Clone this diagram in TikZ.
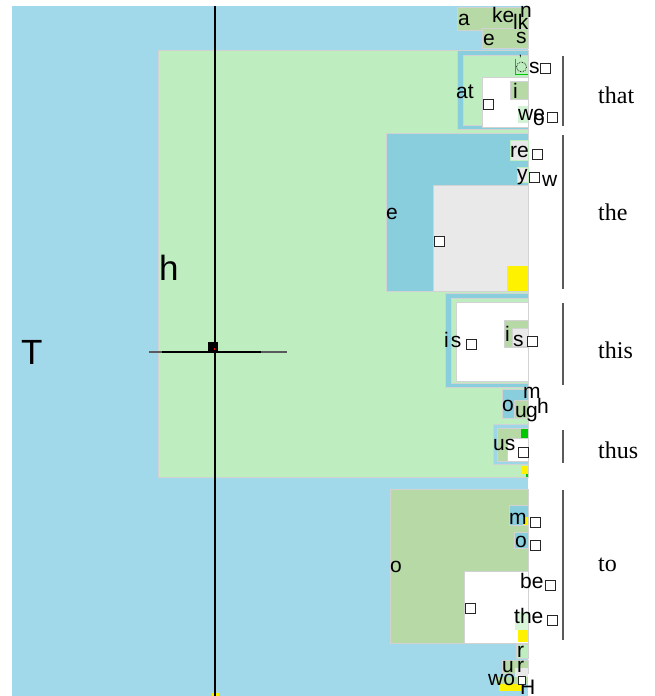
\documentclass[tikz,border=0pt]{standalone}
\usepackage{fontspec}
\setmainfont{Liberation Serif}
\newfontfamily\boxfont{Liberation Sans}

\definecolor{skyblue}{HTML}{A2D9EA}
\definecolor{paleleaf}{HTML}{BEEDC0}
\definecolor{deepsky}{HTML}{88CEDC}
\definecolor{sage}{HTML}{B6D9A5}
\definecolor{mist}{HTML}{E9E9E9}
\definecolor{edge}{HTML}{D2D2D2}
\definecolor{brightleaf}{HTML}{00C800}
\definecolor{rule}{HTML}{5A5A5A}

\tikzset{
  cell/.style={draw=edge, line width=0.8pt},
  glyph/.style={font=\boxfont\fontsize{21}{25}\selectfont, inner sep=0pt, anchor=base west},
  bigglyph/.style={font=\boxfont\fontsize{35}{40}\selectfont, inner sep=0pt, anchor=base west},
  word/.style={font=\fontsize{24}{28}\selectfont, inner sep=0pt, anchor=base west},
  spc/.style={draw=black!85, fill=white, line width=0.7pt, minimum width=9.5pt,
              minimum height=9.5pt, inner sep=0pt, anchor=north west},
  bracket/.style={draw=rule, line width=1.4pt}
}

\begin{document}
\begin{tikzpicture}[x=1pt,y=-1pt]
\useasboundingbox (0,0) rectangle (655,696);

% outermost box
\fill[skyblue] (12,6) rectangle (528,696);
\node[bigglyph] (T) at (21,364) {T};

% box for "h"
\filldraw[cell, fill=paleleaf] (158,50) rectangle (528,477);
\node[bigglyph] (h) at (159,280) {h};

% --- top strip: a / e
\filldraw[cell, fill=sage] (457,7) rectangle (528,30);
\filldraw[cell, fill=sage] (482,28) rectangle (528,48);
\node[glyph] (ga) at (458,25) {a};
\node[glyph] (gke) at (492,23) {ke};
\node[glyph] (gn) at (520,17) {n};
\node[glyph] (glk) at (513,29) {lk};
\node[glyph] (ge1) at (483,45) {e};
\node[glyph] (gs1) at (516,43) {s};

% --- "that" branch
\filldraw[draw=edge, fill=deepsky] (457,50) rectangle (528,129);
\filldraw[draw=edge, fill=paleleaf] (463,55) rectangle (528,125);
\filldraw[draw=edge, fill=white] (482,77) rectangle (528,127);
\filldraw[cell, fill=sage] (510,81) rectangle (528,99);
\fill[paleleaf!70!white] (518,106) rectangle (528,123);
\draw[brightleaf, line width=0.8pt] (515,59) -- (515,74) -- (528,74);
\draw[densely dotted, line width=0.7pt] (521.5,67) circle (5);
\node[glyph, font=\boxfont\fontsize{12}{12}\selectfont] (gap) at (519,63) {’};
\node[glyph] (gat) at (456,98) {at};
\node[spc] (s1) at (483,99) {};
\node[glyph] (gi1) at (513,98) {i};
\node[glyph] (gs2) at (529,73) {s};
\node[spc] (s2) at (540,63) {};
\node[glyph] (gwe) at (518,120) {we};
\node[glyph] (go1) at (533,125) {o};
\node[spc] (s3) at (547,112) {};

% --- "the" branch
\filldraw[cell, fill=deepsky] (386,133) rectangle (528,291);
\filldraw[draw=edge, fill=mist] (433,185) rectangle (528,291);
\fill[yellow] (507,266) rectangle (528,291);
\filldraw[draw=paleleaf, fill=mist, line width=1pt] (510,140) rectangle (528,160);
\filldraw[draw=paleleaf, fill=mist, line width=1pt] (517,167) rectangle (528,182);
\node[glyph] (ge2) at (386,219) {e};
\node[spc] (s4) at (434,236) {};
\node[glyph] (gre) at (510,157) {re};
\node[spc] (s5) at (532,149) {};
\node[glyph] (gy) at (517,180) {y};
\node[spc] (s6) at (529,172) {};
\node[glyph] (gw) at (542,186) {w};

% --- "this" branch
\filldraw[cell, fill=deepsky] (445,293) rectangle (528,387);
\filldraw[draw=edge, fill=paleleaf] (451,298) rectangle (528,383);
\filldraw[draw=edge, fill=white] (456,302) rectangle (528,381);
\filldraw[cell, fill=sage] (504,320) rectangle (528,347);
\filldraw[draw=edge, fill=mist] (512,328) rectangle (528,346);
\node[glyph] (gis1) at (444,347) {i\hspace{2pt}s};
\node[spc] (s7) at (466,339) {};
\node[glyph] (gi2) at (505,341) {i};
\node[glyph] (gs3) at (513,346) {s};
\node[spc] (s8) at (527,336) {};

% --- "ough"
\filldraw[cell, fill=deepsky] (502,389) rectangle (528,418);
\filldraw[draw=edge, fill=sage] (514,400) rectangle (528,418);
\node[glyph] (go2) at (502,411) {o};
\node[glyph] (gu1) at (515,417) {u};
\node[glyph] (gg) at (526,417) {g};
\node[glyph] (gh) at (537,413) {h};
\node[glyph] (gm1) at (523,398) {m};

% --- "thus"
\filldraw[cell, fill=skyblue!80!deepsky] (493,424) rectangle (528,464);
\filldraw[draw=edge, fill=sage] (497,428) rectangle (528,461);
\filldraw[draw=edge, fill=white] (507,438) rectangle (528,461);
\fill[brightleaf] (521,429) rectangle (528,438);
\fill[yellow] (522,466) rectangle (528,474);
\fill[brightleaf] (526,474) rectangle (528,477);
\node[glyph] (gus) at (493,450) {us};
\node[spc] (s9) at (518,447) {};

% --- "to" branch
\filldraw[cell, fill=sage] (390,489) rectangle (528,643);
\filldraw[draw=edge, fill=white] (464,571) rectangle (528,643);
\filldraw[draw=edge, fill=deepsky] (509,505) rectangle (528,525);
\fill[yellow] (523,517) rectangle (528,525);
\filldraw[draw=edge, fill=deepsky] (514,532) rectangle (528,548);
\fill[paleleaf!60!white] (515,612) rectangle (528,630);
\fill[yellow] (518,630) rectangle (528,642);
\node[glyph] (go3) at (390,572) {o};
\node[spc] (s10) at (465,603) {};
\node[glyph] (gm2) at (509,524) {m};
\node[spc] (s11) at (530,517) {};
\node[glyph] (go4) at (515,547) {o};
\node[spc] (s12) at (530,540) {};
\node[glyph] (gbe) at (520,588) {be};
\node[spc] (s13) at (545,580) {};
\node[glyph] (gthe) at (514,623) {the};
\node[spc] (s14) at (547,615) {};

% --- bottom strip
\filldraw[draw=edge, fill=paleleaf] (516,644) rectangle (528,658);
\filldraw[draw=edge, fill=sage] (502,660) rectangle (528,673);
\fill[mist] (515,668) rectangle (528,677);
\fill[sage] (496,677) rectangle (528,684);
\fill[yellow] (499,684) rectangle (523,691);
\node[glyph] (gr1) at (517,657) {r};
\node[glyph] (gu2) at (502,672) {u};
\node[glyph] (gr2) at (517,672) {r};
\node[glyph] (gwo) at (488,685) {wo};
\node[glyph] (gH) at (520,694) {H};
\node[spc, minimum width=7pt, minimum height=8pt] (s15) at (518,676) {};

% --- crosshair
\coordinate (vtop) at (215,6);
\coordinate (vbot) at (215,696);
\coordinate (hl) at (149,352);
\coordinate (hr) at (287,352);
\coordinate (hl2) at (162,352);
\coordinate (hr2) at (261,352);
\fill[yellow] (212,693) rectangle (219,696);
\draw[black, line width=1.2pt] (vtop) -- (vbot);
\draw[rule, line width=1.2pt] (hl) -- (hr);
\draw[black, line width=1.2pt] (hl2) -- (hr2);
\fill[black] (208,342) rectangle (218,352);
\fill[red] (213.5,348) rectangle (215,350);

% --- word brackets
\draw[bracket] (563,56) -- (563,126);
\draw[bracket] (563,135) -- (563,289);
\draw[bracket] (563,303) -- (563,385);
\draw[bracket] (563,430) -- (563,463);
\draw[bracket] (563,490) -- (563,640);
\node[word] (wthat) at (598,103) {that};
\node[word] (wthe) at (598,220) {the};
\node[word] (wthis) at (598,358) {this};
\node[word] (wthus) at (598,458) {thus};
\node[word] (wto) at (598,571) {to};
\end{tikzpicture}
\end{document}
